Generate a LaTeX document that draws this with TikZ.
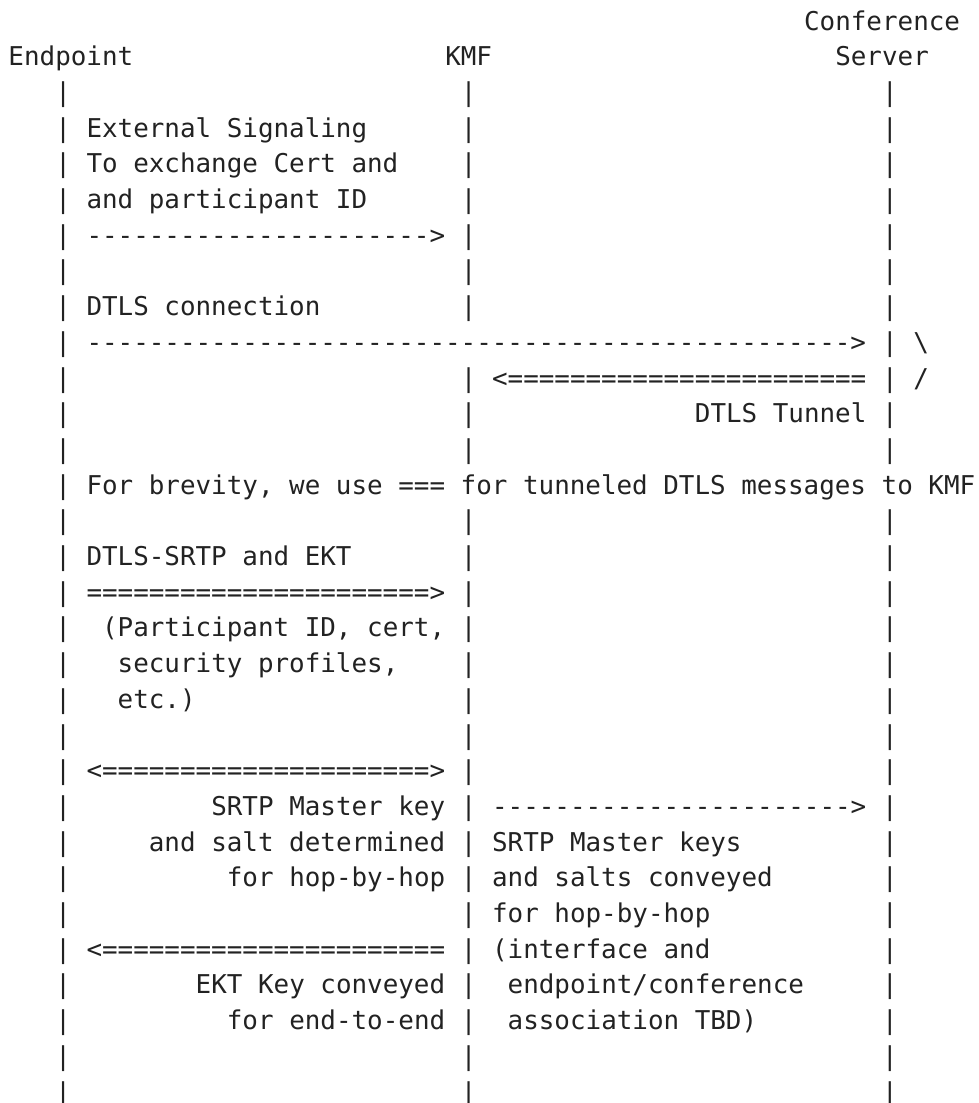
\documentclass[tikz,border=0pt]{standalone}
\usepackage{fontspec}
\setmonofont{DejaVu Sans Mono}
\ExplSyntaxOn
\cs_new:Npn \rpt #1#2 { \prg_replicate:nn {#1} {#2} }
\ExplSyntaxOff
\definecolor{ink}{HTML}{222222}
\tikzset{txt/.style={anchor=base west, inner sep=0pt, outer sep=0pt, text=ink,
  font=\ttfamily\fontsize{25.9}{30}\selectfont}}
% #1 name, #2 column, #3 row, #4 text
\newcommand\tx[4]{\node[txt] (#1) at ({8.5+#2*15.6},{30+#3*35.7}) {#4};}
\begin{document}
\frenchspacing
\begin{tikzpicture}[x=1pt,y=-1pt]
\useasboundingbox (0,0) rectangle (978,1103);
% headers
\tx{conf}{51}{0}{Conference}
\tx{endpoint}{0}{1}{Endpoint}
\tx{kmf}{28}{1}{KMF}
\tx{server}{53}{1}{Server}
% lifelines
\foreach \r in {2,...,30} {\node[txt] (epl\r) at ({8.5+3*15.6},{30+\r*35.7}) {|};}
\foreach \r in {2,3,4,5,6,7,8,10,11,12,14,15,16,17,18,19,20,21,22,23,24,25,26,27,28,29,30}
  {\node[txt] (kml\r) at ({8.5+29*15.6},{30+\r*35.7}) {|};}
\foreach \r in {2,3,4,5,6,7,8,9,10,11,12,14,15,16,17,18,19,20,21,22,23,24,25,26,27,28,29,30}
  {\node[txt] (csl\r) at ({8.5+56*15.6},{30+\r*35.7}) {|};}
% messages
\tx{ext1}{5}{3}{External Signaling}
\tx{ext2}{5}{4}{To exchange Cert and}
\tx{ext3}{5}{5}{and participant ID}
\tx{extarr}{5}{6}{\rpt{22}{-}>}
\tx{dtls}{5}{8}{DTLS connection}
\tx{dtlsarr}{5}{9}{\rpt{49}{-}>}
\tx{bs}{58}{9}{\textbackslash}
\tx{tunarr}{31}{10}{<\rpt{23}{=}}
\tx{sl}{58}{10}{/}
\tx{tunnel}{44}{11}{DTLS Tunnel}
\tx{brevity}{5}{13}{For brevity, we use === for tunneled DTLS messages to KMF}
\tx{srtp}{5}{15}{DTLS-SRTP and EKT}
\tx{srtparr}{5}{16}{\rpt{22}{=}>}
\tx{p1}{6}{17}{(Participant ID, cert,}
\tx{p2}{7}{18}{security profiles,}
\tx{p3}{7}{19}{etc.)}
\tx{biarr}{5}{21}{<\rpt{21}{=}>}
\tx{m1}{13}{22}{SRTP Master key}
\tx{m2}{9}{23}{and salt determined}
\tx{m3}{14}{24}{for hop-by-hop}
\tx{csarr}{31}{22}{\rpt{23}{-}>}
\tx{k1}{31}{23}{SRTP Master keys}
\tx{k2}{31}{24}{and salts conveyed}
\tx{k3}{31}{25}{for hop-by-hop}
\tx{k4}{31}{26}{(interface and}
\tx{k5}{32}{27}{endpoint/conference}
\tx{k6}{32}{28}{association TBD)}
\tx{ektarr}{5}{26}{<\rpt{22}{=}}
\tx{e1}{12}{27}{EKT Key conveyed}
\tx{e2}{14}{28}{for end-to-end}
\end{tikzpicture}
\end{document}
